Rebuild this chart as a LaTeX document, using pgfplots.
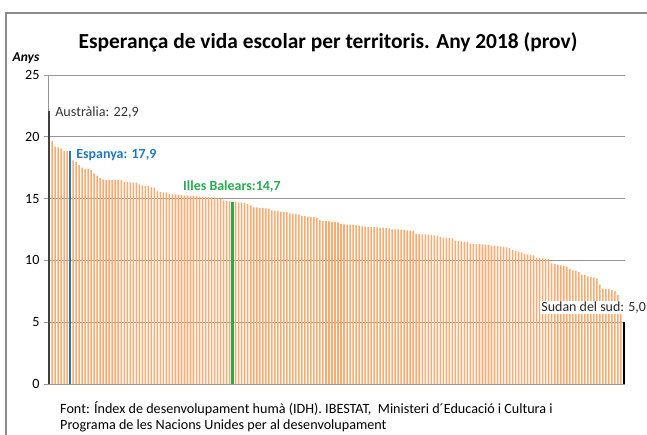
\documentclass[border=0pt]{standalone}
\usepackage{pgfplots}
\pgfplotsset{compat=1.18}
\usepackage{pgfplotstable}
\usepackage{fontspec}
\setmainfont{Carlito}
\definecolor{barfill}{RGB}{250,170,110}
\definecolor{gridc}{RGB}{150,150,150}
\definecolor{framec}{RGB}{140,140,140}
\definecolor{espblue}{RGB}{31,120,190}
\definecolor{balgreen}{RGB}{40,170,80}
\definecolor{ausgray}{RGB}{64,64,64}

\pgfplotstableread{
v
22.1
19.65
19.2
19.15
19.05
18.85
18.85
18.85
18.1
18.0
17.7
17.5
17.4
17.38
17.3
17.05
16.85
16.65
16.55
16.52
16.52
16.5
16.5
16.5
16.5
16.35
16.35
16.32
16.3
16.3
16.15
16.05
16.02
16.0
15.9
15.88
15.6
15.52
15.5
15.5
15.38
15.35
15.35
15.32
15.3
15.25
15.24
15.22
15.2
15.2
15.16
15.15
15.15
15.12
15.1
15.08
15.0
14.95
14.85
14.8
14.78
14.72
14.72
14.7
14.7
14.65
14.55
14.45
14.3
14.28
14.25
14.25
14.2
14.18
14.05
14.0
14.0
13.95
13.92
13.9
13.8
13.78
13.75
13.7
13.6
13.58
13.55
13.52
13.5
13.45
13.25
13.2
13.18
13.15
13.12
13.1
13.08
12.95
12.92
12.9
12.9
12.88
12.85
12.82
12.75
12.73
12.72
12.7
12.7
12.68
12.66
12.65
12.62
12.6
12.52
12.5
12.5
12.48
12.46
12.42
12.4
12.38
12.15
12.12
12.1
12.1
12.08
12.05
12.02
12.0
11.88
11.85
11.82
11.8
11.78
11.6
11.56
11.54
11.52
11.5
11.35
11.34
11.32
11.32
11.3
11.28
11.26
11.18
11.16
11.15
11.13
11.1
11.05
11.0
10.85
10.75
10.7
10.65
10.52
10.48
10.45
10.4
10.2
10.18
10.16
10.15
10.1
9.75
9.7
9.65
9.6
9.55
9.5
9.3
9.2
9.15
9.05
8.85
8.8
8.7
8.65
8.6
8.55
8.05
7.7
7.68
7.65
7.6
7.52
7.2
6.7
5.0
}\datatable

\begin{document}
\begin{tikzpicture}
\useasboundingbox (0bp,0bp) rectangle (647bp,435bp);
\draw[framec, line width=1.2bp] (6bp,0bp) -- (6bp,422bp);
\draw[framec, line width=1.2bp] (5.4bp,422bp) -- (647bp,422bp);
\node[font=\bfseries\fontsize{21.5}{24}\selectfont, anchor=center, inner sep=0pt] at (328bp,393bp) {Esperança de vida escolar per territoris. Any 2018 (prov)};
\node[font=\bfseries\itshape\fontsize{13.5}{15}\selectfont, anchor=center, inner sep=0pt] at (26bp,377bp) {Anys};
\node[font=\fontsize{14.2}{16}\selectfont, anchor=west, inner sep=0pt] at (60bp,26bp) {Font: Índex de desenvolupament humà (IDH). IBESTAT, \ Ministeri d´Educació i Cultura i};
\node[font=\fontsize{14.2}{16}\selectfont, anchor=west, inner sep=0pt] at (60bp,9bp) {Programa de les Nacions Unides per al desenvolupament};
\begin{axis}[
  at={(48bp,51bp)}, anchor=south west,
  scale only axis, width=577bp, height=309bp,
  ybar, bar shift=0pt,
  xmin=-0.35, xmax=191.35,
  ymin=0, ymax=25,
  ytick={0,5,10,15,20,25},
  xtick=\empty,
  axis x line*=bottom, axis y line*=left,
  axis line style={draw=gridc, line width=0.8bp},
  ymajorgrids, grid style={draw=gridc, line width=0.8bp},
  tick align=outside, major tick length=4bp,
  ytick style={draw=gridc, line width=0.8bp},
  yticklabel style={font=\fontsize{14.2}{16}\selectfont, xshift=-1bp},
  /pgf/number format/assume math mode=true,
  clip=false,
]
\addplot[fill=barfill, draw=none, bar width=0.52] table[x expr=\coordindex, y=v] {\datatable};
\addplot[fill=ausgray, draw=none, bar width=0.7] coordinates {(0,22.1)};
\addplot[fill=espblue, draw=none, bar width=0.7] coordinates {(7,18.85)};
\addplot[fill=balgreen, draw=none, bar width=0.8] coordinates {(61,14.72)};
\addplot[fill=black, draw=none, bar width=0.8] coordinates {(191,5.0)};
\node[anchor=west, inner sep=0pt, font=\fontsize{14.2}{16}\selectfont, text=ausgray!80!black] at (axis cs:2,21.95) {Austràlia: 22,9};
\node[anchor=west, inner sep=0pt, font=\bfseries\fontsize{14}{16}\selectfont, text=espblue] at (axis cs:9,18.55) {Espanya: 17,9};
\node[anchor=west, inner sep=0pt, font=\bfseries\fontsize{14}{16}\selectfont, text=balgreen] at (axis cs:44.5,15.95) {Illes Balears:14,7};
\node[anchor=west, inner sep=1bp, fill=white, font=\fontsize{14}{16}\selectfont, text=black!85] at (axis cs:163.2,6.2) {Sudan del sud: 5,0};
\end{axis}
\end{tikzpicture}
\end{document}
